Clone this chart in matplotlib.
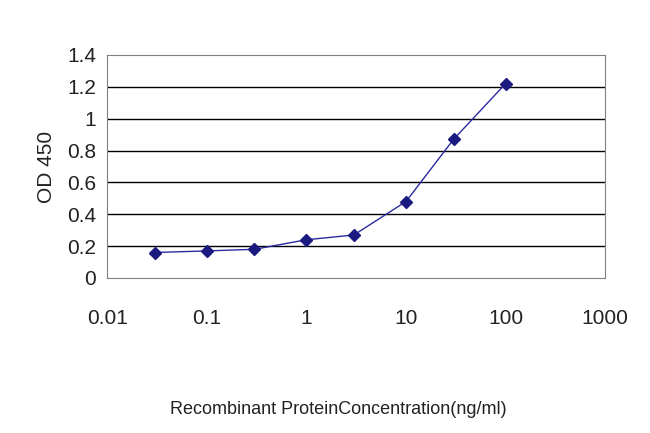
import matplotlib
matplotlib.use("Agg")
import matplotlib.pyplot as plt

plt.rcParams['font.family'] = ['Liberation Sans', 'DejaVu Sans']

conc = [0.03, 0.1, 0.3, 1, 3, 10, 30, 100]
od = [0.16, 0.17, 0.18, 0.24, 0.27, 0.48, 0.87, 1.22]
yticks = [0, 0.2, 0.4, 0.6, 0.8, 1, 1.2, 1.4]
ylabels = ["0", "0.2", "0.4", "0.6", "0.8", "1", "1.2", "1.4"]
xticks = [0.01, 0.1, 1, 10, 100, 1000]
xlabels = ["0.01", "0.1", "1", "10", "100", "1000"]

fig = plt.figure(figsize=(6.5, 4.33), dpi=100)
ax = fig.add_axes([0.165, 0.358, 0.766, 0.515])
ax.set_xscale("log")
ax.set_xlim(0.01, 1000)
ax.set_ylim(0, 1.4)
for y in yticks[1:-1]:
    ax.axhline(y, color="black", lw=1)
ax.plot(conc, od, color="#2a2aa0", lw=1, marker="D", ms=6,
        mfc="#1a1a80", mec="#1a1a80")
ax.set_yticks(yticks)
ax.set_yticklabels(ylabels, fontsize=15, color="#222222")
ax.set_xticks(xticks)
ax.set_xticklabels(xlabels, fontsize=15, color="#222222")
ax.minorticks_off()
ax.tick_params(axis="y", length=0, pad=8)
ax.tick_params(axis="x", length=0, pad=22)
for s in ax.spines.values():
    s.set_color("#808080")
ax.set_ylabel("OD 450", fontsize=15, color="#222222", labelpad=8)
fig.text(0.52, 0.045, "Recombinant ProteinConcentration(ng/ml)", ha="center",
         fontsize=13, color="#222222")
fig.savefig("out.png")
